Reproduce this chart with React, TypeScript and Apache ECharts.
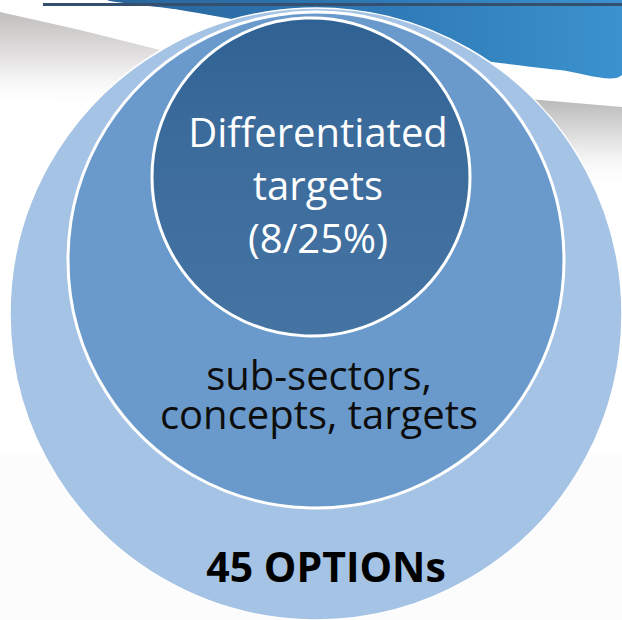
import React, { useEffect, useRef } from "react";
import * as echarts from "echarts";

// Nested circles (outer -> inner)
const circleNames = ["45 OPTIONs", "sub-sectors, concepts, targets", "Differentiated targets (8/25%)"];
const circleX = [316, 316, 311];
const circleY = [314, 260, 177];
const circleDiameter = [612, 496, 318];
const circleColors = ["#a5c3e4", "#6a9acb", "#3f6e9d"];

// Label texts and anchor points
const labelTexts = ["45 OPTIONs", "sub-sectors,\nconcepts, targets", "Differentiated\ntargets\n(8/25%)"];
const labelX = [326, 319, 318];
const labelY = [566, 394, 184];

export default function App() {
  const ref = useRef<HTMLDivElement>(null);
  useEffect(() => {
    if (!ref.current) return;
    const chart = echarts.init(ref.current, undefined, { renderer: "svg" });

    const circleSeries = circleNames.map((name, i) => ({
      type: "scatter",
      name,
      z: 2 + i,
      silent: true,
      symbol: "circle",
      symbolSize: circleDiameter[i],
      data: [[circleX[i], circleY[i]]],
      itemStyle: {
        color:
          i === 2
            ? new echarts.graphic.LinearGradient(0, 0, 0, 1, [
                { offset: 0, color: "#2f6194" },
                { offset: 0.35, color: "#3b6b9b" },
                { offset: 1, color: "#4574a3" },
              ])
            : circleColors[i],
        borderColor: "#ffffff",
        borderWidth: i === 0 ? 1.5 : 3,
        opacity: 1,
      },
    }));

    const labelStyles = [
      { color: "#000000", fontSize: 41, fontWeight: "bold", lineHeight: 48 },
      { color: "#0d0d0d", fontSize: 40, fontWeight: "normal", lineHeight: 39 },
      { color: "#ffffff", fontSize: 40, fontWeight: "normal", lineHeight: 53 },
    ];

    const labelSeries = labelTexts.map((t, i) => ({
      type: "scatter",
      z: 10,
      silent: true,
      symbolSize: 0,
      itemStyle: { opacity: 1 },
      data: [[labelX[i], labelY[i]]],
      label: {
        show: true,
        position: "inside",
        formatter: () => t,
        fontFamily: "Open Sans",
        align: "center",
        verticalAlign: "middle",
        opacity: 1,
        ...labelStyles[i],
      },
    }));

    chart.setOption({
      animation: false,
      grid: { left: 0, top: 0, right: 0, bottom: 0 },
      xAxis: { type: "value", min: 0, max: 622, show: false },
      yAxis: { type: "value", min: 0, max: 620, inverse: true, show: false },
      graphic: [
        { type: "rect", z: -10, shape: { x: 0, y: 455, width: 622, height: 165 }, style: { fill: "#fcfcfc" } },
        {
          type: "polygon",
          z: -9,
          shape: {
            points: [
              [0, 12], [80, 30], [160, 50], [250, 72], [250, 110], [0, 100],
            ],
          },
          style: {
            fill: new echarts.graphic.LinearGradient(0, 0, 0, 1, [
              { offset: 0, color: "#c2bebe" },
              { offset: 0.5, color: "#e6e4e4" },
              { offset: 1, color: "rgba(255,255,255,0)" },
            ]),
          },
        },
        {
          type: "polygon",
          z: -9,
          shape: {
            points: [
              [480, 95], [540, 100], [622, 107], [622, 190], [480, 190],
            ],
          },
          style: {
            fill: new echarts.graphic.LinearGradient(0, 0, 0, 1, [
              { offset: 0, color: "#b5b5b5" },
              { offset: 0.5, color: "#e5e5e5" },
              { offset: 1, color: "rgba(255,255,255,0)" },
            ]),
          },
        },
        {
          type: "polygon",
          z: -8,
          shape: {
            smooth: 0.3,
            points: [
              [110, 0], [622, 0], [622, 75], [560, 70], [500, 63], [420, 52], [340, 38], [260, 24], [180, 10],
            ],
          },
          style: {
            fill: new echarts.graphic.LinearGradient(0, 0, 1, 0, [
              { offset: 0, color: "#2a659c" },
              { offset: 0.5, color: "#2e78b4" },
              { offset: 1, color: "#3b93cf" },
            ]),
          },
        },
        { type: "rect", z: -7, shape: { x: 43, y: 3, width: 579, height: 3 }, style: { fill: "#34506e" } },
      ],
      series: [...circleSeries, ...labelSeries],
    });
    return () => chart.dispose();
  }, []);
  return (
    <div
      ref={ref}
      style={{ position: "fixed", left: 0, top: 0, width: 622, height: 620, background: "#ffffff" }}
    />
  );
}
